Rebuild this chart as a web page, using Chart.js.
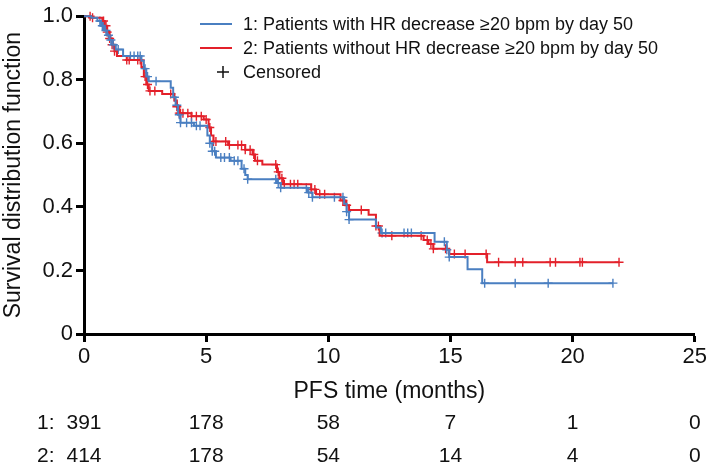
<!DOCTYPE html>
<html>
<head>
<meta charset="utf-8">
<script src="https://cdn.jsdelivr.net/npm/chart.js@4"></script>
<style>
  body { margin: 0; background: #fff; }
  #km { display: block; }
</style>
</head>
<body>
<canvas id="km" width="709" height="470"></canvas>
<script>
// group 1: patients with HR decrease >= 20 bpm by day 50
var g1Times = [0.3,0.55,0.7,0.85,0.95,1.05,1.15,1.3,1.6,2.35,2.45,2.55,2.65,3.55,3.65,3.75,3.85,3.95,4.5,5.05,5.15,5.25,5.4,6.0,6.45,6.6,6.7,7.9,8.05,9.15,9.35,10.65,10.75,10.85,11.95,12.15,14.35,14.85,14.95,15.7,16.3];
var g1Surv = [0.995,0.985,0.97,0.955,0.94,0.925,0.91,0.895,0.875,0.86,0.835,0.81,0.795,0.775,0.745,0.72,0.69,0.665,0.655,0.625,0.60,0.575,0.555,0.545,0.52,0.50,0.487,0.475,0.46,0.445,0.43,0.41,0.385,0.36,0.335,0.318,0.29,0.265,0.242,0.204,0.160];
var g1End = 21.65;
var g1Censor = [0.65,0.75,0.8,0.9,1.0,1.1,1.2,1.4,1.9,2.05,2.2,2.3,2.5,2.6,2.95,3.7,3.8,3.9,3.95,4.2,4.4,4.6,4.75,5.15,5.25,5.35,5.6,5.75,5.95,6.15,6.3,6.55,6.7,7.85,7.95,8.05,9.1,9.2,9.35,10.25,10.6,10.75,10.85,12.2,12.35,13.1,13.25,13.4,14.75,14.85,14.95,16.4,17.65,19.0,21.65];

// group 2: patients without HR decrease >= 20 bpm by day 50
var g2Times = [0.3,0.75,0.85,0.95,1.05,1.15,1.25,1.35,1.75,2.35,2.45,2.55,2.65,3.2,3.7,3.8,3.9,4.4,4.9,5.1,5.2,5.3,5.9,6.6,6.9,7.0,7.3,7.9,8.0,8.15,9.3,9.5,10.5,10.7,10.85,11.65,11.95,12.1,13.9,14.1,14.3,14.95,16.5];
var g2Surv = [0.995,0.985,0.97,0.95,0.93,0.91,0.89,0.875,0.862,0.84,0.81,0.785,0.765,0.755,0.735,0.715,0.695,0.685,0.675,0.65,0.625,0.606,0.595,0.58,0.565,0.545,0.533,0.51,0.49,0.471,0.455,0.44,0.42,0.405,0.39,0.375,0.34,0.309,0.296,0.283,0.268,0.252,0.226];
var g2End = 21.9;
var g2Censor = [0.25,0.35,0.8,0.9,0.95,1.05,1.15,1.25,1.75,1.85,2.2,2.3,2.5,2.6,2.7,2.9,3.55,3.8,3.9,3.95,4.05,4.25,4.4,4.6,4.8,5.0,5.15,5.3,5.4,5.8,5.95,6.3,6.45,6.6,6.8,6.95,7.1,7.85,7.95,8.1,8.2,8.45,8.6,8.75,9.3,9.45,9.65,9.85,10.6,10.75,11.35,11.95,12.05,12.6,13.8,14.05,14.2,14.3,14.8,15.16,15.6,16.46,16.97,17.65,17.96,19.08,19.3,20.3,20.4,21.9];

// number at risk
var riskTimes = [0, 5, 10, 15, 20, 25];
var risk1 = [391, 178, 58, 7, 1, 0];
var risk2 = [414, 178, 54, 14, 4, 0];

var legend1 = '1: Patients with HR decrease \u226520 bpm by day 50';
var legend2 = '2: Patients without HR decrease \u226520 bpm by day 50';

var BLUE = '#4a7fc1';
var RED = '#e3202a';

function curve(times, surv, end) {
  var pts = [{x: 0, y: 1}];
  for (var i = 0; i < times.length; i++) pts.push({x: times[i], y: surv[i]});
  pts.push({x: end, y: surv[surv.length - 1]});
  return pts;
}

function survAt(times, surv, t) {
  var s = 1;
  for (var i = 0; i < times.length; i++) {
    if (times[i] <= t) s = surv[i];
  }
  return s;
}

function censorPts(times, surv, cens) {
  return cens.map(function(t) { return {x: t, y: survAt(times, surv, t)}; });
}

Chart.defaults.font.family = '"Liberation Sans", Arial, sans-serif';
Chart.defaults.color = '#111';

var FONT = '"Liberation Sans", Arial, sans-serif';

var extras = {
  id: 'extras',
  afterDraw: function(chart) {
    var ctx = chart.ctx;
    var xs = chart.scales.x;
    ctx.save();
    // legend
    ctx.lineWidth = 2;
    ctx.strokeStyle = BLUE;
    ctx.beginPath(); ctx.moveTo(200, 24); ctx.lineTo(232, 24); ctx.stroke();
    ctx.strokeStyle = RED;
    ctx.beginPath(); ctx.moveTo(200, 48); ctx.lineTo(232, 48); ctx.stroke();
    ctx.strokeStyle = '#111';
    ctx.lineWidth = 1.5;
    ctx.beginPath();
    ctx.moveTo(217, 72); ctx.lineTo(229, 72);
    ctx.moveTo(223, 66); ctx.lineTo(223, 78);
    ctx.stroke();
    ctx.fillStyle = '#111';
    ctx.font = '18px ' + FONT;
    ctx.textBaseline = 'middle';
    ctx.textAlign = 'left';
    ctx.fillText(legend1, 243, 25);
    ctx.fillText(legend2, 243, 49);
    ctx.fillText('Censored', 243, 73);
    // number at risk table
    ctx.font = '21px ' + FONT;
    ctx.fillText('1:', 37, 423);
    ctx.fillText('2:', 37, 456);
    ctx.textAlign = 'center';
    for (var i = 0; i < riskTimes.length; i++) {
      var px = xs.getPixelForValue(riskTimes[i]);
      ctx.fillText(String(risk1[i]), px, 423);
      ctx.fillText(String(risk2[i]), px, 456);
    }
    ctx.restore();
  }
};

new Chart(document.getElementById('km'), {
  type: 'line',
  data: {
    datasets: [
      {
        label: 'group1',
        data: curve(g1Times, g1Surv, g1End),
        borderColor: BLUE,
        borderWidth: 2,
        stepped: true,
        pointRadius: 0,
        fill: false,
        clip: false
      },
      {
        label: 'group2',
        data: curve(g2Times, g2Surv, g2End),
        borderColor: RED,
        borderWidth: 2,
        stepped: true,
        pointRadius: 0,
        fill: false,
        clip: false
      },
      {
        type: 'scatter',
        label: 'censor1',
        data: censorPts(g1Times, g1Surv, g1Censor),
        borderColor: BLUE,
        backgroundColor: BLUE,
        pointStyle: 'cross',
        pointRadius: 4.5,
        borderWidth: 1.4,
        showLine: false,
        clip: false
      },
      {
        type: 'scatter',
        label: 'censor2',
        data: censorPts(g2Times, g2Surv, g2Censor),
        borderColor: RED,
        backgroundColor: RED,
        pointStyle: 'cross',
        pointRadius: 4.5,
        borderWidth: 1.4,
        showLine: false,
        clip: false
      }
    ]
  },
  options: {
    responsive: false,
    animation: false,
    devicePixelRatio: 1,
    layout: { padding: { left: 0, right: 12, top: 14, bottom: 64 } },
    plugins: {
      legend: { display: false },
      tooltip: { enabled: false }
    },
    scales: {
      x: {
        type: 'linear',
        min: 0,
        max: 25,
        ticks: { stepSize: 5, font: { size: 22 }, color: '#111', padding: 2 },
        grid: { drawOnChartArea: false, drawTicks: true, tickLength: 8, tickWidth: 3, tickColor: '#000' },
        border: { display: true, width: 3, color: '#000' },
        title: { display: true, text: 'PFS time (months)', font: { size: 23 }, color: '#111', padding: { top: 0, bottom: 1 } },
        afterFit: function(s) { s.height = 72; }
      },
      y: {
        min: 0,
        max: 1,
        ticks: {
          stepSize: 0.2,
          font: { size: 22 },
          color: '#111',
          padding: 3,
          callback: function(v) { return v === 0 ? '0' : v.toFixed(1); }
        },
        grid: { drawOnChartArea: false, drawTicks: true, tickLength: 8, tickWidth: 3, tickColor: '#000' },
        border: { display: true, width: 3, color: '#000' },
        title: { display: true, text: 'Survival distribution function', font: { size: 23 }, color: '#111', padding: { top: 0, bottom: 0 } },
        afterFit: function(s) { s.width = 84; }
      }
    }
  },
  plugins: [extras]
});
</script>
</body>
</html>
